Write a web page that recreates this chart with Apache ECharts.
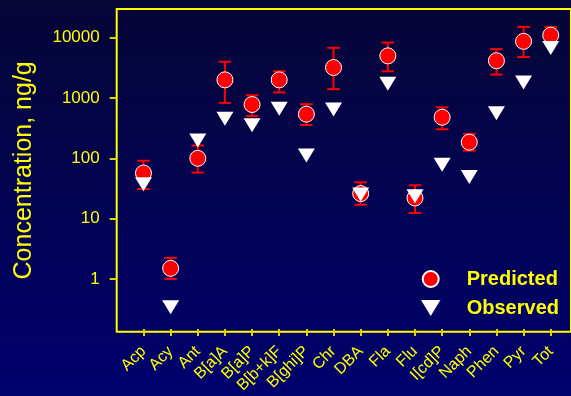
<!DOCTYPE html>
<html>
<head>
<meta charset="utf-8">
<script src="https://cdn.jsdelivr.net/npm/echarts@6/dist/echarts.min.js"></script>
<style>
  html, body { margin: 0; padding: 0; background: #000050; }
  #chart { width: 571px; height: 396px; }
</style>
</head>
<body>
<div id="chart"></div>
<script>
// PAH concentrations (ng/g): model predictions with uncertainty range, and measured values
const categories = ['Acp', 'Acy', 'Ant', 'B[a]A', 'B[a]P', 'B[b+k]F', 'B[ghi]P', 'Chr',
                    'DBA', 'Fla', 'Flu', 'I[cd]P', 'Naph', 'Phen', 'Pyr', 'Tot'];
const predicted     = [57, 1.5, 100, 2000, 780, 2000, 540, 3200, 26, 5000, 22, 480, 185, 4150, 8700, 11000];
const predictedLow  = [31, 1.0, 58, 830, 500, 1240, 357, 1400, 17, 2770, 12.4, 303, 134, 2450, 4770, 8000];
const predictedHigh = [91, 2.24, 163, 4000, 1110, 2770, 790, 6800, 40, 8300, 35.7, 700, 254, 6450, 15100, 15100];
const observed      = [37, 0.34, 197, 455, 353, 665, 111, 645, 25, 1720, 23.6, 78, 49, 561, 1808, 6750];
const yTicks = [1, 10, 100, 1000, 10000];

const YELLOW = '#ffff00';
const FONT = "'Liberation Sans', Arial, sans-serif";
const TRIANGLE_DOWN = 'path://M0,0 L17,0 L8.5,14 Z';

const chart = echarts.init(document.getElementById('chart'), null, { renderer: 'canvas' });

const errorData = categories.map((c, i) => [i, predictedLow[i], predictedHigh[i]]);

chart.setOption({
  animation: false,
  backgroundColor: {
    type: 'linear', x: 0, y: 0, x2: 0, y2: 1,
    colorStops: [
      { offset: 0, color: '#050536' },
      { offset: 1, color: '#00006e' }
    ]
  },
  textStyle: { fontFamily: FONT },
  grid: [
    // plot frame
    { left: 116.7, top: 9, right: -6, bottom: 64.3, show: true,
      borderColor: YELLOW, borderWidth: 2, backgroundColor: 'transparent' },
    // data area: one decade per 61 px, categories 27.15 px apart
    { left: 129.9, top: 37.7, width: 434.4, height: 244 }
  ],
  xAxis: [
    { gridIndex: 0, type: 'value', show: false },
    {
      gridIndex: 1, type: 'category', data: categories, offset: 50,
      axisLine: { show: false },
      axisTick: { show: true, alignWithLabel: true, length: 7, lineStyle: { color: '#d8d800', width: 2 } },
      axisLabel: { interval: 0, rotate: 45, margin: 20, color: YELLOW, fontSize: 16, fontFamily: FONT },
      splitLine: { show: false }
    }
  ],
  yAxis: [
    {
      gridIndex: 0, type: 'value',
      name: 'Concentration, ng/g', nameLocation: 'middle', nameRotate: 90, nameGap: 80,
      nameTextStyle: { color: YELLOW, fontSize: 25, fontFamily: FONT },
      axisLine: { show: false }, axisTick: { show: false }, axisLabel: { show: false },
      splitLine: { show: false }
    },
    {
      gridIndex: 1, type: 'log', logBase: 10, min: yTicks[0], max: yTicks[yTicks.length - 1],
      offset: 13.2,
      axisLine: { show: false },
      axisTick: { show: true, length: 7, lineStyle: { color: '#d8d800', width: 2 } },
      axisLabel: {
        color: YELLOW, fontSize: 17, fontFamily: FONT, margin: 17,
        formatter: v => String(Math.round(v))
      },
      splitLine: { show: false }
    }
  ],
  legend: {
    orient: 'vertical',
    left: 416, top: 264,
    itemWidth: 62, itemHeight: 16, itemGap: 9,
    textStyle: { color: YELLOW, fontSize: 20, fontWeight: 'bold', fontFamily: FONT },
    data: [
      { name: 'Predicted', icon: 'circle' },
      { name: 'Observed', icon: TRIANGLE_DOWN }
    ]
  },
  series: [
    {
      name: 'Predicted range', type: 'custom', xAxisIndex: 1, yAxisIndex: 1, z: 1,
      data: errorData,
      encode: { x: 0, y: [1, 2] },
      renderItem: (params, api) => {
        const i = api.value(0);
        const lo = api.coord([i, api.value(1)]);
        const hi = api.coord([i, api.value(2)]);
        const w = 6.3;
        const style = { stroke: '#ff0000', lineWidth: 2 };
        return {
          type: 'group',
          children: [
            { type: 'line', shape: { x1: lo[0], y1: lo[1], x2: hi[0], y2: hi[1] }, style },
            { type: 'line', shape: { x1: lo[0] - w, y1: lo[1], x2: lo[0] + w, y2: lo[1] }, style },
            { type: 'line', shape: { x1: hi[0] - w, y1: hi[1], x2: hi[0] + w, y2: hi[1] }, style }
          ]
        };
      }
    },
    {
      name: 'Predicted', type: 'scatter', xAxisIndex: 1, yAxisIndex: 1, z: 2, clip: false,
      data: predicted,
      symbol: 'circle', symbolSize: 16,
      itemStyle: { color: '#ff0000', borderColor: '#ffffff', borderWidth: 1, opacity: 1 }
    },
    {
      name: 'Observed', type: 'scatter', xAxisIndex: 1, yAxisIndex: 1, z: 3, clip: false,
      data: observed,
      symbol: TRIANGLE_DOWN, symbolSize: [17, 14],
      itemStyle: { color: '#ffffff', opacity: 1 }
    }
  ]
});
</script>
</body>
</html>
